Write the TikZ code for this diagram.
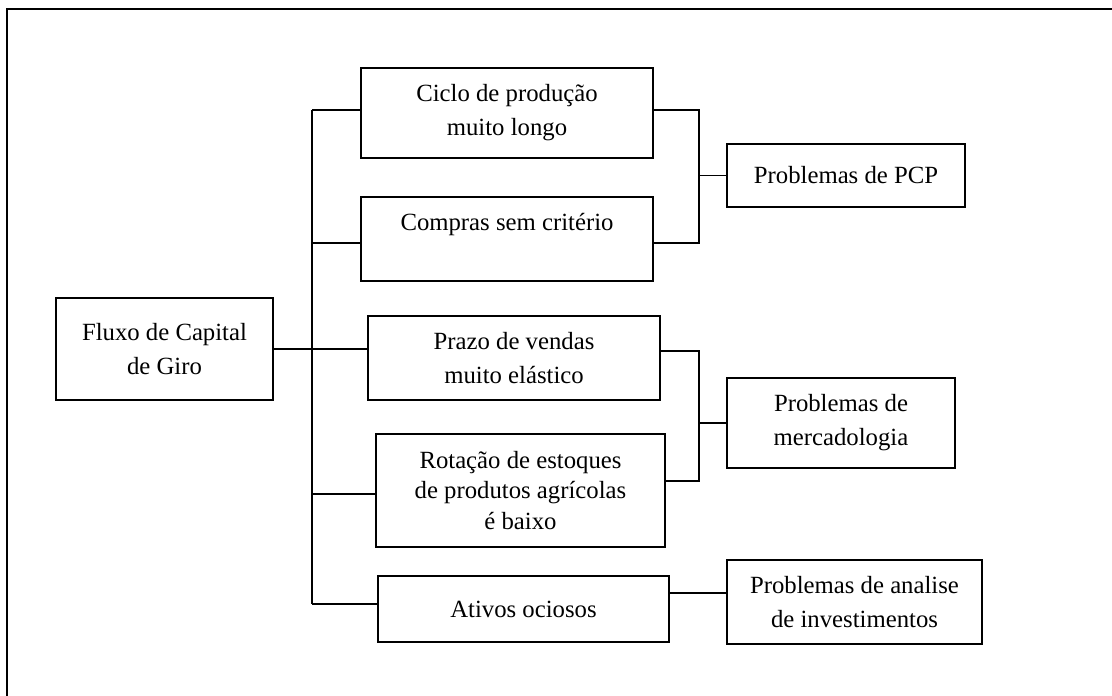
\documentclass[tikz,border=0pt]{standalone}
\usepackage{fontspec}
\setmainfont{Liberation Serif}
\usepackage{tikz}
\usetikzlibrary{positioning,calc}

\tikzset{
  box/.style={draw, line width=0.7pt, align=center, inner sep=0pt,
    font=\fontsize{12}{16.5}\selectfont},
  link/.style={line width=0.7pt},
}

\begin{document}
\begin{tikzpicture}[x=0.485pt, y=-0.485pt]
\useasboundingbox (0,0) rectangle (1112,695);

% Frame
\draw[line width=0.9pt] (7,700) -- (7,9) -- (1115,9);

% Source
\node[box, minimum width=105.2pt, minimum height=49.5pt] (fluxo) at (164.5,349) {Fluxo de Capital\\de Giro};

% Causes
\node[box, minimum width=141.6pt, minimum height=43.7pt] (ciclo) at (507,113) {Ciclo de produção\\muito longo};
\node[box, minimum width=141.6pt, minimum height=40.7pt] (compras) at (507,239) {Compras sem critério\\\mbox{}};
\node[box, minimum width=141.6pt, minimum height=40.7pt] (prazo) at (514,358) {Prazo de vendas\\muito elástico};
\node[box, minimum width=140.2pt, minimum height=54.8pt, font=\fontsize{12}{15}\selectfont] (rotacao) at (520.5,490.5) {Rotação de estoques\\de produtos agrícolas\\é baixo};
\node[box, minimum width=141.1pt, minimum height=32pt] (ativos) at (523.5,609) {Ativos ociosos};

% Problems
\node[box, minimum width=115.4pt, minimum height=30.6pt] (pcp) at (846,175.5) {Problemas de PCP};
\node[box, minimum width=110.6pt, minimum height=43.7pt] (merc) at (841,423) {Problemas de\\mercadologia};
\node[box, minimum width=123.7pt, minimum height=40.7pt] (analise) at (854.5,602) {Problemas de analise\\de investimentos};

% Trunk on the left
\coordinate (b1) at (312,110);
\coordinate (b2) at (312,243);
\coordinate (b4) at (312,494);
\coordinate (b5) at (312,604);
\draw[link] (b1) -- (b5);
\draw[link] (b1) -- (b1 -| ciclo.west);
\draw[link] (b2) -- (b2 -| compras.west);
\draw[link] (fluxo.east) -- (fluxo.east -| prazo.west);
\draw[link] (b4) -- (b4 -| rotacao.west);
\draw[link] (b5) -- (b5 -| ativos.west);

% Joins on the right
\coordinate (r1) at (699,110);
\coordinate (r2) at (699,243);
\coordinate (r3) at (699,351);
\coordinate (r4) at (699,481);
\coordinate (r5) at (699,593);
\draw[link] (ciclo.east |- r1) -- (r1) -- (r2) -- (compras.east |- r2);
\draw[link] (r1 |- pcp.west) -- (pcp.west);
\draw[link] (prazo.east |- r3) -- (r3) -- (r4) -- (rotacao.east |- r4);
\draw[link] (r3 |- merc.west) -- (merc.west);
\draw[link] (ativos.east |- r5) -- (r5 -| analise.west);
\end{tikzpicture}
\end{document}
